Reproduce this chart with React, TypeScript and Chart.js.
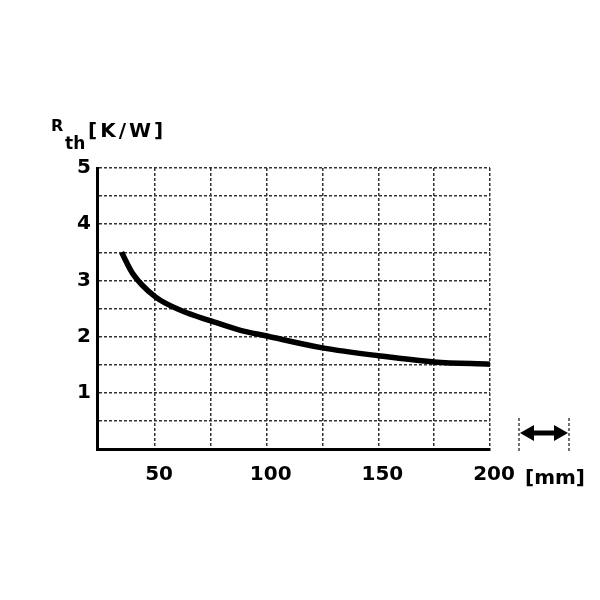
import React, { useEffect, useRef } from "react";
import { Chart, registerables } from "chart.js";

Chart.register(...registerables);

// Heat-sink length [mm] vs thermal resistance Rth [K/W]
const lengthsMm = [35, 40, 50, 62.5, 75, 87.5, 100, 125, 150, 175, 200];
const rthValues = [3.5, 3.12, 2.71, 2.45, 2.28, 2.12, 2.01, 1.8, 1.66, 1.55, 1.51];

const xTickValues = [50, 75, 100, 125, 150, 175, 200];
const xTickLabels = ["50", "", "100", "", "150", "", "200"];
const yTickValues = [0, 0.5, 1, 1.5, 2, 2.5, 3, 3.5, 4, 4.5, 5];
const yTickLabels = ["", "", "1", "", "2", "", "3", "", "4", "", "5"];

const FONT = "'DejaVu Sans', sans-serif";

const decorations = {
  id: "decorations",
  afterDraw(chart: any) {
    const { ctx, chartArea } = chart;
    const L = chartArea.left;
    const T = chartArea.top;
    const R = chartArea.right;
    const B = chartArea.bottom;
    ctx.save();
    ctx.fillStyle = "#000";
    ctx.textBaseline = "alphabetic";
    ctx.textAlign = "left";
    // y-axis title: R_th [K/W]
    ctx.font = `bold 16px ${FONT}`;
    ctx.fillText("R", L - 46, T - 37);
    ctx.font = `bold 17px ${FONT}`;
    ctx.fillText("th", L - 32, T - 19);
    ctx.font = `bold 20px ${FONT}`;
    (ctx as any).letterSpacing = "3px";
    ctx.fillText("[K/W]", L - 9, T - 31);
    (ctx as any).letterSpacing = "0px";
    // x-axis unit
    ctx.fillText("[mm]", R + 35, B + 35);
    // double arrow with dotted limits
    const ax1 = R + 29;
    const ax2 = R + 79;
    const ay = B - 16;
    ctx.strokeStyle = "#444";
    ctx.lineWidth = 1.5;
    ctx.setLineDash([3, 2]);
    ctx.beginPath();
    ctx.moveTo(ax1, B - 31);
    ctx.lineTo(ax1, B + 3);
    ctx.moveTo(ax2, B - 31);
    ctx.lineTo(ax2, B + 3);
    ctx.stroke();
    ctx.setLineDash([]);
    ctx.strokeStyle = "#000";
    ctx.lineWidth = 5;
    ctx.beginPath();
    ctx.moveTo(ax1 + 8, ay);
    ctx.lineTo(ax2 - 8, ay);
    ctx.stroke();
    ctx.beginPath();
    ctx.moveTo(ax1 + 1, ay);
    ctx.lineTo(ax1 + 15, ay - 8);
    ctx.lineTo(ax1 + 15, ay + 8);
    ctx.closePath();
    ctx.moveTo(ax2 - 1, ay);
    ctx.lineTo(ax2 - 15, ay - 8);
    ctx.lineTo(ax2 - 15, ay + 8);
    ctx.closePath();
    ctx.fill();
    ctx.restore();
  },
};

export default function App() {
  const ref = useRef<HTMLCanvasElement | null>(null);

  useEffect(() => {
    document.body.style.margin = "0";
    const canvas = ref.current;
    if (!canvas) return;
    const chart = new Chart(canvas, {
      type: "line",
      data: {
        datasets: [
          {
            data: lengthsMm.map((x, i) => ({ x, y: rthValues[i] })),
            borderColor: "#000",
            borderWidth: 5.5,
            pointRadius: 0,
            cubicInterpolationMode: "monotone",
            fill: false,
          },
        ],
      },
      options: {
        animation: false,
        responsive: false,
        devicePixelRatio: 1,
        layout: { padding: { left: 0, top: 168, right: 110, bottom: 0 } },
        plugins: {
          legend: { display: false },
          tooltip: { enabled: false },
        },
        scales: {
          x: {
            type: "linear",
            min: 24,
            max: 200,
            afterBuildTicks: (scale: any) => {
              scale.ticks = xTickValues.map((v) => ({ value: v }));
            },
            afterFit: (scale: any) => {
              scale.height = 151;
            },
            ticks: {
              autoSkip: false,
              maxRotation: 0,
              padding: 14,
              labelOffset: 4,
              color: "#000",
              font: { family: FONT, size: 20, weight: "bold" },
              callback: (v: any) => {
                const i = xTickValues.indexOf(Number(v));
                return i >= 0 ? xTickLabels[i] : "";
              },
            },
            grid: { color: "#333", lineWidth: 1.5, drawTicks: false },
            border: { display: true, color: "#000", width: 3, dash: [3, 2] },
          },
          y: {
            type: "linear",
            min: 0,
            max: 5,
            afterBuildTicks: (scale: any) => {
              scale.ticks = yTickValues.map((v) => ({ value: v }));
            },
            afterFit: (scale: any) => {
              scale.width = 97;
            },
            ticks: {
              autoSkip: false,
              padding: 6,
              color: "#000",
              font: { family: FONT, size: 20, weight: "bold" },
              callback: (v: any) => {
                const i = yTickValues.indexOf(Number(v));
                return i >= 0 ? yTickLabels[i] : "";
              },
            },
            grid: { color: "#333", lineWidth: 1.5, drawTicks: false },
            border: { display: true, color: "#000", width: 3, dash: [3, 2] },
          },
        },
      },
      plugins: [decorations],
    } as any);
    return () => chart.destroy();
  }, []);

  return (
    <div style={{ width: 600, height: 600, background: "#fff" }}>
      <canvas ref={ref} width={600} height={600} style={{ display: "block" }} />
    </div>
  );
}
